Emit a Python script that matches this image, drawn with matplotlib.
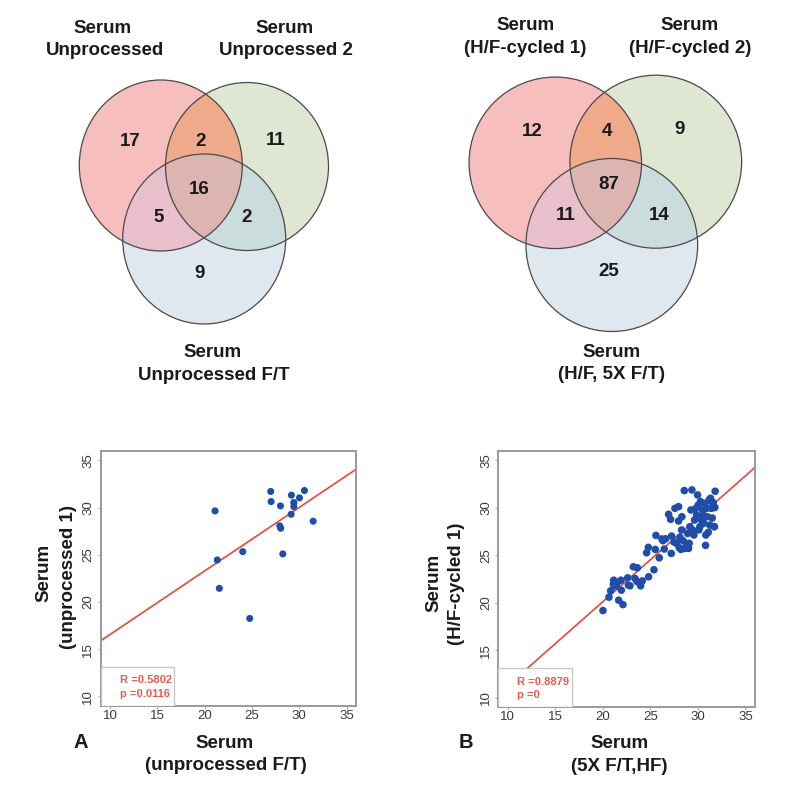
import numpy as np
import matplotlib
matplotlib.use("Agg")
import matplotlib.pyplot as plt
from matplotlib.patches import Ellipse, Polygon, Rectangle

plt.rcParams['font.family'] = ['Liberation Sans', 'DejaVu Sans']

W, H = 799, 788

# ---------------- data ----------------
venn_A_sets = ["Serum\nUnprocessed", "Serum\nUnprocessed 2", "Serum\nUnprocessed F/T"]
venn_A_counts = {"100": 17, "010": 11, "001": 9, "110": 2, "101": 5, "011": 2, "111": 16}

venn_B_sets = ["Serum\n(H/F-cycled 1)", "Serum\n(H/F-cycled 2)", "Serum\n(H/F, 5X F/T)"]
venn_B_counts = {"100": 12, "010": 9, "001": 25, "110": 4, "101": 11, "011": 14, "111": 87}

x_A = [21.09, 21.33, 21.55, 24.02, 24.76, 26.98, 27.02, 28.01, 27.94, 28.04,
       28.26, 29.17, 29.42, 29.42, 29.14, 30.02, 30.55, 31.47]
y_A = [29.65, 24.45, 21.44, 25.33, 18.25, 31.71, 30.64, 30.18, 28.06, 27.81,
       25.09, 31.32, 30.54, 30.11, 29.29, 31.03, 31.81, 28.56]
fit_A = (0.673, 9.83)   # slope, intercept
stats_A = ("R =0.5802", "p =0.0116")

x_B = [20.01, 20.64, 20.82, 21.10, 21.14, 21.38, 21.66, 21.90, 21.94, 22.11,
       22.61, 22.68, 22.85, 23.20, 23.62, 23.38, 23.59, 23.97, 24.15, 24.81,
       24.60, 24.78, 25.37, 25.51, 25.58, 25.93, 26.21, 26.32, 26.46, 26.91,
       27.12, 27.19, 27.23, 27.47, 27.58, 27.75, 27.96, 27.96, 28.03, 28.10,
       28.21, 28.28, 28.31, 28.45, 28.56, 28.63, 28.80, 28.91, 29.01, 29.08,
       29.15, 29.26, 29.36, 29.43, 29.57, 29.64, 29.78, 29.85, 29.96, 30.03,
       30.10, 30.20, 30.27, 30.38, 30.48, 30.55, 30.62, 30.73, 30.80, 30.83,
       30.90, 30.97, 31.08, 31.18, 31.25, 31.32, 31.39, 31.43, 31.50, 31.60,
       31.67, 31.71, 31.81, 31.78, 31.74, 21.45, 26.60]
y_B = [19.19, 20.60, 21.27, 21.97, 22.39, 21.76, 20.28, 22.39, 21.34, 19.82,
       22.64, 21.87, 21.80, 23.80, 23.70, 22.57, 22.25, 21.80, 22.32, 22.75,
       25.28, 25.85, 23.49, 25.63, 27.11, 24.75, 26.73, 26.55, 25.67, 29.33,
       28.80, 25.21, 27.04, 26.41, 29.96, 26.27, 30.14, 28.63, 25.81, 26.90,
       25.63, 27.68, 29.08, 26.55, 31.83, 25.74, 26.09, 27.32, 25.74, 26.27,
       28.03, 29.79, 31.90, 27.68, 27.15, 28.73, 29.96, 29.26, 31.37, 30.31,
       27.68, 28.03, 30.67, 28.73, 29.79, 29.26, 28.38, 30.49, 26.06, 27.15,
       29.96, 29.08, 27.43, 30.85, 28.20, 31.02, 29.96, 30.67, 28.94, 30.56,
       28.03, 30.03, 31.76, 30.07, 28.03, 22.00, 26.75]
fit_B = (0.884, 2.45)
stats_B = ("R =0.8879", "p =0")

ticks = [10, 15, 20, 25, 30, 35]

# ---------------- styles ----------------
region_colors = {"100": "#f6bfbe", "010": "#dfe7d3", "001": "#dfe7ef",
                 "110": "#efaa8c", "101": "#e8bfca", "011": "#cadcdb",
                 "111": "#dcb5b1"}
dot_color = "#1f4ea8"
line_color = "#e8473a"
stat_color = "#e8594e"

fig = plt.figure(figsize=(W / 100, H / 100), dpi=100)
ov = fig.add_axes([0, 0, 1, 1])
ov.set_xlim(0, W)
ov.set_ylim(H, 0)
ov.axis('off')


def ell_pts(c, w, h, n=1440):
    t = np.linspace(0, 2 * np.pi, n, endpoint=False)
    return np.column_stack([c[0] + w / 2 * np.cos(t), c[1] + h / 2 * np.sin(t)])


def inside(p, e):
    c, w, h = e
    return ((p[:, 0] - c[0]) / (w / 2)) ** 2 + ((p[:, 1] - c[1]) / (h / 2)) ** 2 <= 1 + 1e-6


def region_poly(ells):
    pts = np.vstack([ell_pts(*e) for e in ells])
    m = np.ones(len(pts), bool)
    for e in ells:
        m &= inside(pts, e)
    pts = pts[m]
    cen = pts.mean(axis=0)
    ang = np.arctan2(pts[:, 1] - cen[1], pts[:, 0] - cen[0])
    return pts[np.argsort(ang)]


def draw_venn(ells, counts, count_pos, names, name_pos):
    for i, e in enumerate(ells):
        key = ["100", "010", "001"][i]
        ov.add_patch(Ellipse(e[0], e[1], e[2], facecolor=region_colors[key], edgecolor='none', zorder=1))
    for key, idx in [("110", (0, 1)), ("101", (0, 2)), ("011", (1, 2)), ("111", (0, 1, 2))]:
        poly = region_poly([ells[i] for i in idx])
        ov.add_patch(Polygon(poly, closed=True, facecolor=region_colors[key], edgecolor='none', zorder=2))
    for e in ells:
        ov.add_patch(Ellipse(e[0], e[1], e[2], facecolor='none', edgecolor='#4a4a4a', lw=0.9, zorder=3))
    for key, (px, py) in count_pos.items():
        ov.text(px, py, str(counts[key]), ha='center', va='center', fontsize=13.5,
                fontweight='bold', color='#1a1a1a', zorder=4)
    for name, pos in zip(names, name_pos):
        l1, l2 = name.split("\n")
        ov.text(pos[0], pos[1], l1, ha='center', va='baseline', fontsize=13.5, fontweight='bold', color='#1a1a1a')
        ov.text(pos[2], pos[3], l2, ha='center', va='baseline', fontsize=13.5, fontweight='bold', color='#1a1a1a')


ellsA = [((160.8, 165.5), 163, 171), ((247, 166.5), 163, 168), ((204.2, 239), 163, 170)]
posA = {"100": (130, 141.5), "110": (201, 141.5), "010": (275.3, 140.5), "111": (199, 189.5),
        "101": (159, 217.5), "011": (246.7, 217.5), "001": (199.3, 273.5)}
draw_venn(ellsA, venn_A_counts, posA, venn_A_sets,
          [(102.2, 32.7, 104.7, 54.5), (284.2, 32.7, 286.2, 54.5), (212.8, 357.3, 213.5, 379.5)])

ellsB = [((555.3, 162.8), 172.5, 171.5), ((655.8, 161.7), 171.7, 173), ((611.8, 245), 171.7, 173)]
posB = {"100": (532.3, 131.8), "110": (607.3, 131.8), "010": (680, 129.5), "111": (609.3, 184.5),
        "101": (565.7, 215.8), "011": (659.3, 215.8), "001": (609, 271.5)}
draw_venn(ellsB, venn_B_counts, posB, venn_B_sets,
          [(525.2, 30, 525, 52.7), (689.5, 30, 690, 52.7), (611.5, 356.7, 611.7, 379.3)])


def scatter_panel(rect, xs, ys, fit, stats, s):
    ax = fig.add_axes(rect)
    ax.scatter(xs, ys, s=s, color=dot_color, edgecolors='none', zorder=3)
    ax.axline((0, fit[1]), slope=fit[0], color=line_color, lw=1.2, zorder=2)
    ax.set_xlim(9, 36)
    ax.set_ylim(9, 36)
    ax.set_xticks(ticks)
    ax.set_yticks(ticks)
    for sp in ax.spines.values():
        sp.set_color('#9a9a9a')
        sp.set_linewidth(1.4)
    ax.tick_params(direction='out', length=2, width=0.8, color='#b0b0b0',
                   labelsize=9.5, labelcolor='#3a3a3a')
    ax.tick_params(axis='x', pad=1)
    ax.tick_params(axis='y', pad=2.5, labelrotation=90)
    for lab in ax.get_yticklabels():
        lab.set_va('center')
    ax.add_patch(Rectangle((9, 9), 7.8, 4.1, facecolor='white', edgecolor='#c8c8c8',
                           lw=1.0, zorder=4))
    ax.text(11.0, 11.7, stats[0], color=stat_color, fontsize=8, fontweight='bold',
            va='center', ha='left', zorder=5)
    ax.text(11.0, 10.27, stats[1], color=stat_color, fontsize=8, fontweight='bold',
            va='center', ha='left', zorder=5)
    return ax


def fx(x):
    return x / W


def fy(y):
    return 1 - y / H


scatter_panel([fx(100.7), fy(705.7), (356 - 100.7) / W, (705.7 - 451) / H], x_A, y_A, fit_A, stats_A, 26)
scatter_panel([fx(498.3), fy(707.3), (755 - 498.3) / W, (707.3 - 451) / H], x_B, y_B, fit_B, stats_B, 30)

lab_kw = dict(fontsize=13.5, fontweight='bold', color='#1a1a1a')
# Panel A labels
fig.text(fx(43.8), fy(573), "Serum", rotation=90, ha='center', va='center', **lab_kw)
fig.text(fx(68.7), fy(577), "(unprocessed 1)", rotation=90, ha='center', va='center', **lab_kw)
fig.text(fx(225), fy(748.3), "Serum", ha='center', va='baseline', **lab_kw)
fig.text(fx(225.8), fy(770.5), "(unprocessed F/T)", ha='center', va='baseline', **lab_kw)
fig.text(fx(81.2), fy(748.3), "A", ha='center', va='baseline', fontsize=14.5, fontweight='bold', color='#1a1a1a')
# Panel B labels
fig.text(fx(433.8), fy(583), "Serum", rotation=90, ha='center', va='center', **lab_kw)
fig.text(fx(457), fy(584), "(H/F-cycled 1)", rotation=90, ha='center', va='center', **lab_kw)
fig.text(fx(619.8), fy(748.3), "Serum", ha='center', va='baseline', **lab_kw)
fig.text(fx(619.5), fy(770.7), "(5X F/T,HF)", ha='center', va='baseline', **lab_kw)
fig.text(fx(466.3), fy(748.3), "B", ha='center', va='baseline', fontsize=14.5, fontweight='bold', color='#1a1a1a')

fig.savefig("out.png", dpi=100, facecolor='white')
